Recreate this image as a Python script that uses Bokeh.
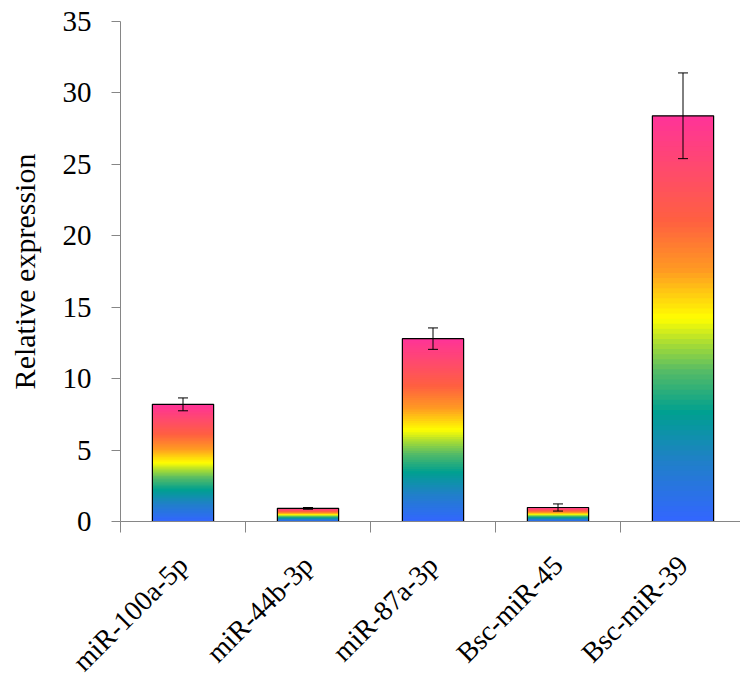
import math
from bokeh.plotting import figure
from bokeh.models import (ColumnDataSource, FixedTicker, Whisker, TeeHead,
                          CustomJSTickFormatter, Range1d)
from bokeh.embed import file_html
from bokeh.resources import INLINE

categories = ["miR-100a-5p", "miR-44b-3p", "miR-87a-3p", "Bsc-miR-45", "Bsc-miR-39"]
values = [8.2, 0.92, 12.8, 0.98, 28.4]
errors = [0.45, 0.06, 0.75, 0.25, 3.0]
y_ticks = [0, 5, 10, 15, 20, 25, 30, 35]

# gradient stops (relative position within a bar, colour)
grad_pos = [0.0, 0.15, 0.27, 0.37, 0.44, 0.50, 0.62, 0.74, 1.0]
grad_col = ["#3366FF", "#2080C8", "#00A090", "#55BB66", "#AADD33",
            "#FFFF00", "#FF9922", "#FF6040", "#FF3399"]

FONT = "Liberation Serif"
AXIS_COL = "#868686"


def hex2rgb(h):
    h = h.lstrip("#")
    return tuple(int(h[i:i + 2], 16) for i in (0, 2, 4))


def interp_color(t):
    for i in range(len(grad_pos) - 1):
        if grad_pos[i] <= t <= grad_pos[i + 1]:
            f = (t - grad_pos[i]) / (grad_pos[i + 1] - grad_pos[i])
            a, b = hex2rgb(grad_col[i]), hex2rgb(grad_col[i + 1])
            c = [round(a[k] + (b[k] - a[k]) * f) for k in range(3)]
            return "#%02x%02x%02x" % tuple(c)
    return grad_col[-1]


xs = [i + 0.5 for i in range(len(categories))]
bar_w = 0.49
N = 80

p = figure(frame_width=620, frame_height=500,
           x_range=Range1d(0, 4.96), y_range=Range1d(0, 35),
           output_backend="svg", toolbar_location=None,
           min_border_left=120, min_border_top=21, min_border_right=0,
           min_border_bottom=160)
p.outline_line_color = None
p.xgrid.visible = False
p.ygrid.visible = False
p.background_fill_color = "white"

# gradient: stacked rectangles from the base, tallest first, so no seams show
left, right, bottom, top, colors = [], [], [], [], []
for k in range(N - 1, -1, -1):
    for x, v in zip(xs, values):
        left.append(x - bar_w / 2)
        right.append(x + bar_w / 2)
        bottom.append(0)
        top.append(v * (k + 1) / N)
        colors.append(interp_color((k + 0.5) / N))
p.quad(left=left, right=right, bottom=bottom, top=top,
       fill_color=colors, line_color=None)

# outlines
src = ColumnDataSource(dict(x=xs, v=values,
                            lower=[v - e for v, e in zip(values, errors)],
                            upper=[v + e for v, e in zip(values, errors)]))
p.vbar(x="x", top="v", width=bar_w, bottom=0, source=src,
       fill_color=None, line_color="black", line_width=1.2)

w = Whisker(base="x", upper="upper", lower="lower", source=src,
            line_color="black", line_width=1, level="overlay",
            upper_head=TeeHead(size=10, line_color="black", line_width=1),
            lower_head=TeeHead(size=10, line_color="black", line_width=1))
p.add_layout(w)

# y axis
ya = p.yaxis[0]
ya.ticker = FixedTicker(ticks=y_ticks, minor_ticks=[])
ya.axis_line_color = AXIS_COL
ya.major_tick_line_color = AXIS_COL
ya.major_tick_out = 9
ya.major_tick_in = 0
ya.minor_tick_line_color = None
ya.major_label_text_font = FONT
ya.major_label_text_font_size = "29px"
ya.major_label_text_color = "black"
ya.major_label_standoff = 20
ya.axis_label = "Relative expression"
ya.axis_label_text_font = FONT
ya.axis_label_text_font_size = "30px"
ya.axis_label_text_font_style = "normal"
ya.axis_label_text_color = "black"
ya.axis_label_standoff = 19

# x axis
xa = p.xaxis[0]
xa.ticker = FixedTicker(ticks=xs, minor_ticks=list(range(len(categories) + 1)))
xa.formatter = CustomJSTickFormatter(args=dict(labels=categories),
                                     code="return labels[Math.round(tick - 0.5)];")
xa.axis_line_color = AXIS_COL
xa.major_tick_line_color = None
xa.minor_tick_line_color = AXIS_COL
xa.minor_tick_out = 11
xa.minor_tick_in = 0
xa.major_label_orientation = math.pi / 4
xa.major_label_text_font = FONT
xa.major_label_text_font_size = "28px"
xa.major_label_text_color = "black"
xa.major_label_standoff = 28

open("out.html", "w").write(file_html(p, INLINE))
